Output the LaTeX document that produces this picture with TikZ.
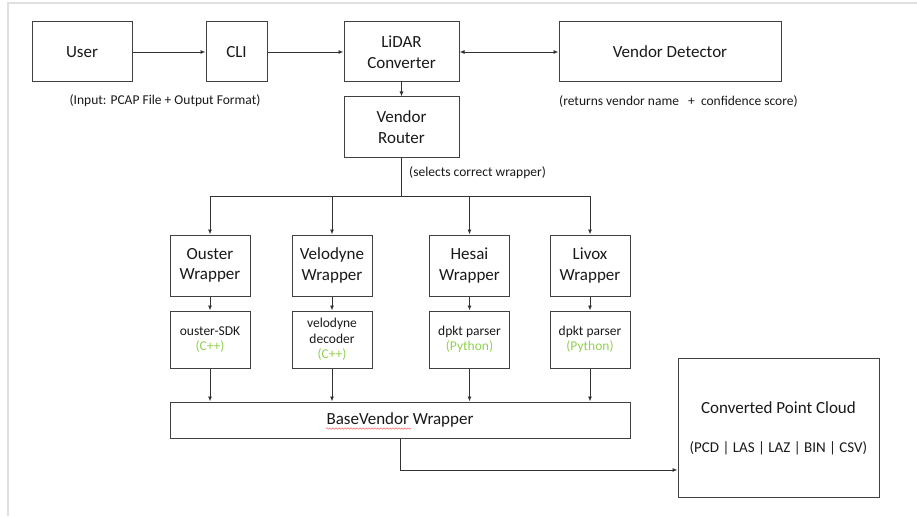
\documentclass[tikz,border=0pt]{standalone}
\usepackage{fontspec}
\setmainfont{Carlito}
\usepackage{xcolor}
\usetikzlibrary{arrows.meta,decorations.pathmorphing}
\definecolor{langgreen}{HTML}{92D050}

\begin{document}
\begin{tikzpicture}[x=1pt,y=-1pt,>={Latex[length=5pt,width=4pt]},
    box/.style={draw=black!75,line width=1pt,align=center,inner sep=0pt,text=black!90,
      font=\fontsize{17}{20.5}\selectfont},
    wrapbox/.style={box,minimum width=80pt,minimum height=61pt},
    parsebox/.style={box,minimum width=80pt,minimum height=57pt,font=\fontsize{13.5}{15.5}\selectfont},
    note/.style={inner sep=0pt,text=black!90,font=\fontsize{13.5}{16}\selectfont},
    link/.style={draw=black!80,line width=0.9pt},
    flow/.style={link,->}]
  \useasboundingbox (0,0) rectangle (917,516);
  \draw[black!12,line width=1.5pt] (8,516) -- (8,3) -- (917,3);
      \node[box,minimum width=100pt,minimum height=60pt] (U) at (82,52) {User};
      \node[box,minimum width=61pt,minimum height=60pt] (CLI) at (236.5,52) {CLI};
      \node[box,minimum width=115pt,minimum height=60pt] (L) at (401.5,52) {LiDAR\\Converter};
      \node[box,minimum width=222pt,minimum height=60pt] (VD) at (670,52) {Vendor Detector};
      \node[box,minimum width=115pt,minimum height=60pt] (VR) at (401.5,127) {Vendor\\Router};
      \node[wrapbox] (OW) at (210,265.5) {Ouster\\Wrapper};
      \node[wrapbox] (VW) at (332,265.5) {Velodyne\\Wrapper};
      \node[wrapbox] (HW) at (469.5,265.5) {Hesai\\Wrapper};
      \node[wrapbox] (LW) at (590,265.5) {Livox\\Wrapper};
      \node[parsebox] (OP) at (210,339.5) {ouster-SDK\\\textcolor{langgreen}{(C++)}};
      \node[parsebox] (VP) at (332,339.5) {velodyne\\decoder\\\textcolor{langgreen}{(C++)}};
      \node[parsebox] (HP) at (469.5,339.5) {dpkt parser\\\textcolor{langgreen}{(Python)}};
      \node[parsebox] (LP) at (590,339.5) {dpkt parser\\\textcolor{langgreen}{(Python)}};
      \node[box,minimum width=460pt,minimum height=36pt] (B) at (400,420) {BaseVendor Wrapper};
      \node[box,minimum width=201pt,minimum height=139pt] (PC) at (778.5,427.5) {};
      \coordinate (T) at (401.5,196);
        % notes under the boxes
     \node[note] at (165,101) {(Input: PCAP File + Output Format)};
     \node[note,anchor=west] at (559,101) {(returns vendor name\ \ \ +\ \ confidence score)};
     \node[note,anchor=west] at (409,173) {(selects correct wrapper)};
     \node[note,font=\fontsize{17}{20}\selectfont] at ([yshift=19.5pt]PC.center) {Converted Point Cloud};
     \node[note,font=\fontsize{15}{18}\selectfont] at ([yshift=-20.5pt]PC.center) {(PCD | LAS | LAZ | BIN | CSV)};
     \draw[red!55,line width=0.6pt,decorate,decoration={snake,amplitude=0.7pt,segment length=3pt}]
       (326,428.5) -- (411,428.5);
      \draw[flow] (U) -- (CLI);
      \draw[flow] (CLI) -- (L);
      \draw[link,<->] (L) -- (VD);
      \draw[flow] (L) -- (VR);
      \draw[link] (VR) -- (T);
      \draw[flow] (T) -| (OW);
      \draw[flow] (T) -| (VW);
      \draw[flow] (T) -| (HW);
      \draw[flow] (T) -| (LW);
      \draw[flow] (OW) -- (OP);
      \draw[flow] (VW) -- (VP);
      \draw[flow] (HW) -- (HP);
      \draw[flow] (LW) -- (LP);
      \draw[flow] (OP) -- (OP |- B.north);
      \draw[flow] (VP) -- (VP |- B.north);
      \draw[flow] (HP) -- (HP |- B.north);
      \draw[flow] (LP) -- (LP |- B.north);
      \draw[flow] (B.south) |- ([yshift=-42.5pt]PC.west);
    \end{tikzpicture}
\end{document}
